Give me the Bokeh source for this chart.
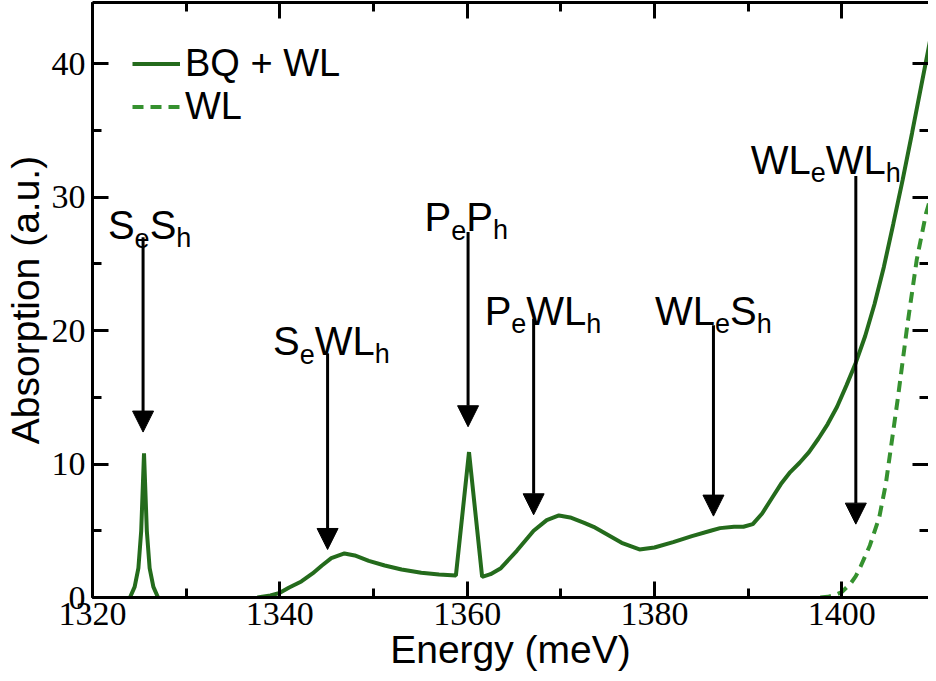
from bokeh.plotting import figure
from bokeh.models import (Range1d, LinearAxis, SingleIntervalTicker, Legend, LegendItem,
                          Label, Arrow, NormalHead, ColumnDataSource, CustomJSTickFormatter)
from bokeh.embed import file_html
from bokeh.resources import INLINE

# ---------------- data ----------------
# narrow S_eS_h peak (part of BQ + WL)
peak1_x = [1324.0, 1324.5, 1324.9, 1325.2, 1325.5, 1325.8, 1326.1, 1326.5, 1327.0]
peak1_y = [0.0, 0.8, 2.2, 5.0, 10.8, 5.0, 2.2, 0.8, 0.0]

# BQ + WL main curve
bqwl_x = [1337.6, 1339.0, 1340.0, 1341.0, 1342.3, 1343.5, 1344.5, 1345.5, 1346.9, 1348.0, 1349.5,
          1351.2, 1353.0, 1355.1, 1357.0, 1358.8, 1360.2, 1361.6, 1362.5, 1363.6, 1365.3, 1367.1,
          1368.5, 1369.8, 1371.0, 1372.5, 1373.5, 1375.0, 1376.5, 1378.4, 1380.0, 1382.0, 1384.0,
          1386.0, 1387.0, 1388.5, 1389.5, 1390.5, 1391.5, 1392.5, 1393.5, 1394.5, 1395.5, 1396.5,
          1397.5, 1398.5, 1399.5, 1400.5, 1401.5, 1402.5, 1403.5, 1404.5, 1405.5, 1406.5, 1407.5,
          1408.5, 1409.5]
bqwl_y = [0.0, 0.15, 0.35, 0.75, 1.2, 1.8, 2.4, 2.95, 3.3, 3.15, 2.75,
          2.4, 2.1, 1.85, 1.72, 1.65, 10.9, 1.55, 1.75, 2.2, 3.5, 5.0,
          5.8, 6.15, 6.0, 5.6, 5.3, 4.7, 4.1, 3.6, 3.75, 4.15, 4.6,
          5.0, 5.2, 5.3, 5.3, 5.5, 6.3, 7.4, 8.5, 9.4, 10.1, 10.9,
          11.9, 13.0, 14.3, 15.9, 17.6, 19.6, 22.0, 24.8, 28.0, 31.3, 34.8,
          38.4, 42.0]

# WL only
wl_x = [1397.7, 1398.5, 1399.3, 1400.0, 1401.0, 1401.5, 1402.0, 1403.0, 1404.0, 1404.7, 1405.4,
        1406.0, 1407.0, 1408.0, 1409.0, 1409.5]
wl_y = [0.0, 0.05, 0.2, 0.4, 1.1, 1.6, 2.3, 3.9, 6.0, 8.5, 12.0,
        15.0, 20.4, 25.3, 28.8, 30.0]

# annotations: text pieces (text, is_subscript)
ann_parts = [
    [("S", 0), ("e", 1), ("S", 0), ("h", 1)],
    [("S", 0), ("e", 1), ("WL", 0), ("h", 1)],
    [("P", 0), ("e", 1), ("P", 0), ("h", 1)],
    [("P", 0), ("e", 1), ("WL", 0), ("h", 1)],
    [("WL", 0), ("e", 1), ("S", 0), ("h", 1)],
    [("WL", 0), ("e", 1), ("WL", 0), ("h", 1)],
]
ann_text_x = [1326.1, 1345.5, 1359.9, 1368.1, 1386.3, 1398.3]
ann_text_y = [27.9, 19.2, 28.5, 21.5, 21.5, 32.8]
arrow_x = [1325.4, 1345.1, 1360.1, 1367.1, 1386.3, 1401.5]
arrow_top = [27.0, 18.3, 27.4, 20.9, 20.4, 31.6]
arrow_tip = [12.4, 3.6, 12.8, 6.2, 6.1, 5.5]

x_ticks_interval = 20
y_ticks_interval = 10

# ---------------- style ----------------
SOLID = "#246b1c"
DASHED = "#35912f"
SANS = "Liberation Sans"
SERIF = "Liberation Serif"
MAIN_FS = 40
SUB_FS = 27
ADV = {"S": 0.667, "W": 0.944, "L": 0.556, "P": 0.667, "e": 0.556, "h": 0.556}

p = figure(width=928, height=673,
           x_range=Range1d(1320, 1409.26), y_range=Range1d(0, 44.6),
           output_backend="svg", toolbar_location=None,
           min_border_left=89, min_border_right=0, min_border_top=2, min_border_bottom=0)
p.xgrid.visible = False
p.ygrid.visible = False
p.outline_line_color = None
p.background_fill_color = "white"
p.border_fill_color = "white"

xt = SingleIntervalTicker(interval=x_ticks_interval, num_minor_ticks=2)
yt = SingleIntervalTicker(interval=y_ticks_interval, num_minor_ticks=2)


def style_axis(ax, labels=True):
    ax.axis_line_width = 3
    ax.axis_line_color = "black"
    ax.major_tick_line_width = 3
    ax.minor_tick_line_width = 3
    ax.major_tick_in = 16
    ax.major_tick_out = 0
    ax.minor_tick_in = 9
    ax.minor_tick_out = 0
    ax.major_label_text_font = SERIF
    ax.major_label_text_color = "black"
    ax.major_label_text_font_size = "34px"
    if not labels:
        ax.formatter = CustomJSTickFormatter(code="return ''")
        ax.major_label_standoff = 0


xa = p.xaxis[0]
xa.ticker = xt
style_axis(xa)
xa.major_label_standoff = 5
xa.axis_label = "Energy (meV)"
xa.axis_label_text_font = SANS
xa.axis_label_text_font_size = "39px"
xa.axis_label_text_font_style = "normal"
xa.axis_label_standoff = 0
xa.axis_label_text_color = "black"

ya = p.yaxis[0]
ya.ticker = yt
style_axis(ya)
ya.major_label_standoff = 7
ya.axis_label = "Absorption (a.u.)"
ya.axis_label_text_font = SANS
ya.axis_label_text_font_size = "39px"
ya.axis_label_text_font_style = "normal"
ya.axis_label_standoff = 2
ya.axis_label_text_color = "black"

top_ax = LinearAxis(ticker=SingleIntervalTicker(interval=x_ticks_interval, num_minor_ticks=2))
style_axis(top_ax, labels=False)
p.add_layout(top_ax, "above")

right_ax = LinearAxis(ticker=SingleIntervalTicker(interval=y_ticks_interval, num_minor_ticks=2))
style_axis(right_ax, labels=False)
right_ax.axis_line_color = None
p.add_layout(right_ax, "right")

# curves
r_peak = p.line(peak1_x, peak1_y, line_color=SOLID, line_width=4)
r_main = p.line(bqwl_x, bqwl_y, line_color=SOLID, line_width=4)
r_wl = p.line(wl_x, wl_y, line_color=DASHED, line_width=4, line_dash="11 7")

# arrows
asrc = ColumnDataSource(dict(x0=arrow_x, y0=arrow_top, x1=arrow_x, y1=arrow_tip))
p.add_layout(Arrow(end=NormalHead(size=21, fill_color="black", fill_alpha=1.0,
                                  line_color="black", line_width=1),
                   source=asrc, x_start="x0", y_start="y0", x_end="x1", y_end="y1",
                   line_width=3, line_color="black"))

# annotation texts with subscripts
for parts, tx, ty in zip(ann_parts, ann_text_x, ann_text_y):
    widths = []
    for txt, sub in parts:
        fs = SUB_FS if sub else MAIN_FS
        widths.append(sum(ADV[c] for c in txt) * fs)
    total = sum(widths)
    off = -total / 2.0
    for (txt, sub), w in zip(parts, widths):
        p.add_layout(Label(x=tx, y=ty, x_offset=off, y_offset=(-13 if sub else 0), text=txt,
                           text_font=SANS, text_font_size=f"{SUB_FS if sub else MAIN_FS}px",
                           text_color="black", text_align="left", text_baseline="alphabetic"))
        off += w

# legend
legend = Legend(items=[LegendItem(label="BQ + WL", renderers=[r_main]),
                       LegendItem(label="WL", renderers=[r_wl])],
                location=(40, 469), orientation="vertical",
                glyph_width=48, glyph_height=43, label_height=43, label_standoff=5,
                spacing=0, padding=0, margin=0,
                label_text_font=SANS, label_text_font_size="38px", label_text_color="black",
                border_line_color=None, background_fill_alpha=0)
p.add_layout(legend)

open("out.html", "w").write(file_html(p, INLINE))
